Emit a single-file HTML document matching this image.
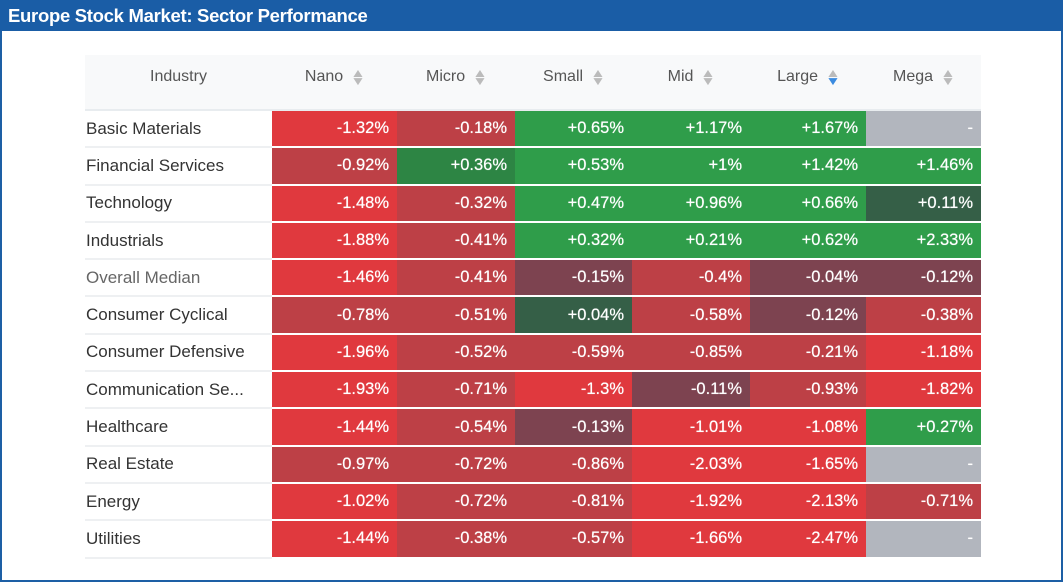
<!DOCTYPE html>
<html><head><style>
body{margin:0;width:1063px;height:586px;background:#fff;font-family:"Liberation Sans",sans-serif;position:relative;overflow:hidden}
.frame{position:absolute;left:0;top:0;width:1059px;height:580px;border:2px solid #1d5fa5;border-top:none}
.title{position:absolute;left:0;top:0;width:1063px;height:31px;background:#1a5da6;color:#fff;font-weight:bold;font-size:18.5px;line-height:31px;padding-left:8px;box-sizing:border-box;letter-spacing:-0.3px}
table{position:absolute;left:85px;top:55px;border-collapse:collapse;table-layout:fixed}
th{height:55px;background:#f8f9fa;color:#555;font-weight:normal;font-size:16px;text-align:center;border-bottom:2px solid #e8ecef;padding:0 0 10px 0;box-sizing:border-box}
td{height:35.3px;border-bottom:2px solid #fff;padding:0 8px 0 0;text-align:right;color:#fff;font-size:16.5px;text-shadow:0 0 0.6px #fff}
td.n{text-align:left;color:#333;background:#fff;border-bottom:2px solid #eef0f2;padding-left:1px;font-size:17px;white-space:nowrap;text-shadow:none}
.ar{display:inline-block;vertical-align:middle;margin-left:9px;line-height:8px;font-size:12px;color:#bbb;transform:scaleX(1.3)}
.ar b{display:block;font-weight:normal}
.R{background:#e0393e}.M{background:#bd4046}.D{background:#7d4350}
.G{background:#2f9d4a}.g{background:#2d8544}.K{background:#355f47}.X{background:#b2b6be}
</style></head><body>
<div class="frame"></div>
<div class="title">Europe Stock Market: Sector Performance</div>
<table>
<colgroup><col style="width:187px"><col style="width:125px"><col style="width:118px"><col style="width:117px"><col style="width:118px"><col style="width:116px"><col style="width:115px"></colgroup>
<tr><th>Industry</th><th>Nano<span class="ar"><b>▲</b><b>▼</b></span></th><th>Micro<span class="ar"><b>▲</b><b>▼</b></span></th><th>Small<span class="ar"><b>▲</b><b>▼</b></span></th><th>Mid<span class="ar"><b>▲</b><b>▼</b></span></th><th>Large<span class="ar"><b>▲</b><b style="color:#3b8be0">▼</b></span></th><th>Mega<span class="ar"><b>▲</b><b>▼</b></span></th></tr>
<tr><td class="n">Basic Materials</td><td class="R">-1.32%</td><td class="M">-0.18%</td><td class="G">+0.65%</td><td class="G">+1.17%</td><td class="G">+1.67%</td><td class="X">-</td></tr>
<tr><td class="n">Financial Services</td><td class="M">-0.92%</td><td class="g">+0.36%</td><td class="G">+0.53%</td><td class="G">+1%</td><td class="G">+1.42%</td><td class="G">+1.46%</td></tr>
<tr><td class="n">Technology</td><td class="R">-1.48%</td><td class="M">-0.32%</td><td class="G">+0.47%</td><td class="G">+0.96%</td><td class="G">+0.66%</td><td class="K">+0.11%</td></tr>
<tr><td class="n">Industrials</td><td class="R">-1.88%</td><td class="M">-0.41%</td><td class="G">+0.32%</td><td class="G">+0.21%</td><td class="G">+0.62%</td><td class="G">+2.33%</td></tr>
<tr><td class="n" style="color:#666">Overall Median</td><td class="R">-1.46%</td><td class="M">-0.41%</td><td class="D">-0.15%</td><td class="M">-0.4%</td><td class="D">-0.04%</td><td class="D">-0.12%</td></tr>
<tr><td class="n">Consumer Cyclical</td><td class="M">-0.78%</td><td class="M">-0.51%</td><td class="K">+0.04%</td><td class="M">-0.58%</td><td class="D">-0.12%</td><td class="M">-0.38%</td></tr>
<tr><td class="n">Consumer Defensive</td><td class="R">-1.96%</td><td class="M">-0.52%</td><td class="M">-0.59%</td><td class="M">-0.85%</td><td class="M">-0.21%</td><td class="R">-1.18%</td></tr>
<tr><td class="n">Communication Se...</td><td class="R">-1.93%</td><td class="M">-0.71%</td><td class="R">-1.3%</td><td class="D">-0.11%</td><td class="M">-0.93%</td><td class="R">-1.82%</td></tr>
<tr><td class="n">Healthcare</td><td class="R">-1.44%</td><td class="M">-0.54%</td><td class="D">-0.13%</td><td class="R">-1.01%</td><td class="R">-1.08%</td><td class="G">+0.27%</td></tr>
<tr><td class="n">Real Estate</td><td class="M">-0.97%</td><td class="M">-0.72%</td><td class="M">-0.86%</td><td class="R">-2.03%</td><td class="R">-1.65%</td><td class="X">-</td></tr>
<tr><td class="n">Energy</td><td class="R">-1.02%</td><td class="M">-0.72%</td><td class="M">-0.81%</td><td class="R">-1.92%</td><td class="R">-2.13%</td><td class="M">-0.71%</td></tr>
<tr><td class="n">Utilities</td><td class="R">-1.44%</td><td class="M">-0.38%</td><td class="M">-0.57%</td><td class="R">-1.66%</td><td class="R">-2.47%</td><td class="X">-</td></tr>
</table>
</body></html>
